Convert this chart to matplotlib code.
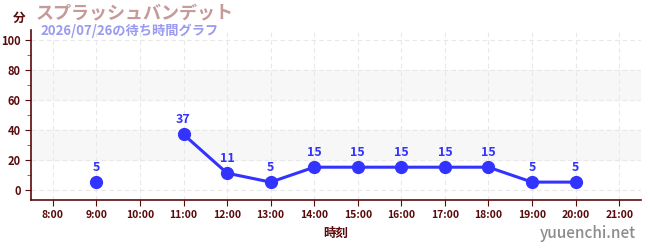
import numpy as np
import matplotlib
matplotlib.use("Agg")
import matplotlib.pyplot as plt

plt.rcParams['font.family'] = ['Noto Sans CJK JP', 'DejaVu Sans']

# データ
hours = [8, 9, 10, 11, 12, 13, 14, 15, 16, 17, 18, 19, 20, 21]
hour_labels = [f"{h}:00" for h in hours]
wait_hours = [9, 10, 11, 12, 13, 14, 15, 16, 17, 18, 19, 20]
wait_minutes = [5, np.nan, 37, 11, 5, 15, 15, 15, 15, 15, 5, 5]
y_ticks = [0, 20, 40, 60, 80, 100]

title = "スプラッシュバンデット"
subtitle = "2026/07/26の待ち時間グラフ"

axis_col = "#5a0a0a"
line_col = "#3333ff"

fig = plt.figure(figsize=(6.5, 2.5), dpi=100)
ax = fig.add_axes([31 / 650, 50 / 250, 610 / 650, 170 / 250])

ax.set_xlim(7.5, 21.5)
ax.set_ylim(-7, 107)

# 背景の帯
for lo, hi in [(20, 40), (60, 80)]:
    ax.axhspan(lo, hi, color="#f7f7f7", zorder=0)

ax.set_xticks(hours)
ax.set_xticklabels(hour_labels)
ax.set_yticks(y_ticks)
ax.set_yticks(np.arange(10, 100, 20), minor=True)
ax.grid(True, which="major", color="#e8e8e8", linestyle=(0, (4, 3)), linewidth=0.8)
ax.set_axisbelow(True)

for s in ["top", "right"]:
    ax.spines[s].set_visible(False)
for s in ["left", "bottom"]:
    ax.spines[s].set_color(axis_col)
    ax.spines[s].set_linewidth(1.2)

ax.tick_params(axis="both", which="major", colors=axis_col, labelsize=8, length=4)
ax.tick_params(axis="y", which="minor", colors="#dd2222", length=3)
ax.tick_params(axis="x", labelsize=7.5)
for lab in ax.get_xticklabels() + ax.get_yticklabels():
    lab.set_color(axis_col)
    lab.set_fontweight("bold")

ax.plot(wait_hours, wait_minutes, color=line_col, linewidth=2.2, marker="o",
        markersize=8.5, zorder=3)
for h, m in zip(wait_hours, wait_minutes):
    if not np.isnan(m):
        ax.annotate(f"{int(m)}", (h, m), xytext=(0, 6), textcoords="offset points",
                    ha="center", va="bottom", color=line_col, fontsize=9,
                    fontweight="bold")

ax.set_xlabel("時刻", color=axis_col, fontsize=9, fontweight="bold", labelpad=5)

fig.text(13 / 650, 1 - 18 / 250, "分", color=axis_col, fontsize=9, fontweight="bold",
         ha="left", va="center")
fig.text(36 / 650, 1 - 14 / 250, title, color="#c49a9a", fontsize=13, fontweight="bold",
         ha="left", va="center")
fig.text(40 / 650, 1 - 31 / 250, subtitle, color="#9a9af0", fontsize=9.5, fontweight="bold",
         ha="left", va="center")
fig.text(1 - 14 / 650, 1 - 233 / 250, "yuuenchi.net", color="#8c8c8c", fontsize=11,
         fontweight="medium", ha="right", va="center")

fig.savefig("out.png", dpi=100)
